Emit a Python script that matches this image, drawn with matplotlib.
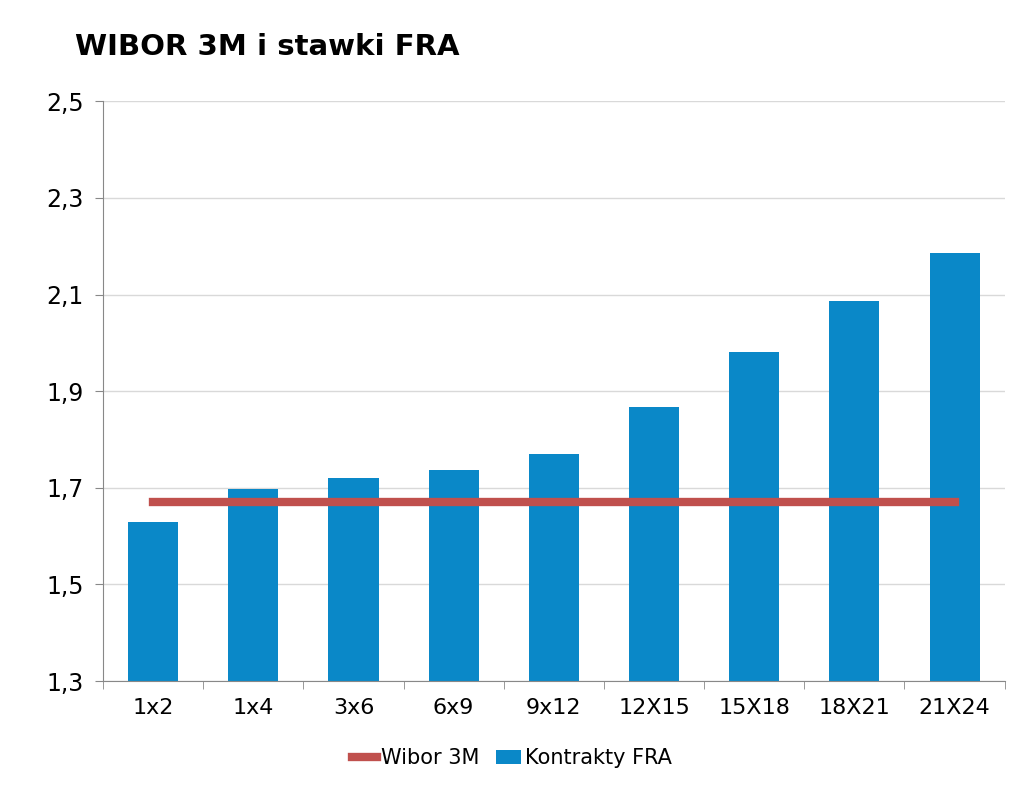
import matplotlib
matplotlib.use("Agg")
import matplotlib.pyplot as plt
import numpy as np

categories = ["1x2", "1x4", "3x6", "6x9", "9x12", "12X15", "15X18", "18X21", "21X24"]
fra = [1.63, 1.697, 1.72, 1.736, 1.77, 1.867, 1.98, 2.086, 2.186]
wibor = [1.67] * len(categories)

fig = plt.figure(figsize=(10.24, 7.91), dpi=100)
ax = fig.add_axes([0.1006, 0.139, 0.8805, 0.733])
x = np.arange(len(categories))
ax.bar(x, fra, width=0.5, color="#0A88C8", label="Kontrakty FRA", zorder=2)
ax.plot(x, wibor, color="#C0504D", lw=6, label="Wibor 3M", zorder=3)
ax.set_xlim(-0.5, len(categories) - 0.5)
ax.set_ylim(1.3, 2.5)
yt = np.arange(1.3, 2.51, 0.2)
ax.set_yticks(yt)
ax.set_yticklabels([f"{v:.1f}".replace(".", ",") for v in yt], fontsize=17)
ax.set_xticks(x)
ax.set_xticklabels(categories, fontsize=16)
ax.set_xticks(np.arange(-0.5, len(categories)), minor=True)
ax.tick_params(axis="x", which="major", length=0, pad=12)
ax.tick_params(axis="x", which="minor", length=6, color="#888888")
ax.tick_params(axis="y", length=6, color="#888888", pad=8)
ax.grid(axis="y", color="#D9D9D9", lw=1, zorder=0)
for s in ["top", "right"]:
    ax.spines[s].set_visible(False)
for s in ["left", "bottom"]:
    ax.spines[s].set_color("#888888")
fig.text(0.073, 0.93, "WIBOR 3M i stawki FRA", fontsize=21, fontweight="bold")
fig.legend(loc="lower center", bbox_to_anchor=(0.5, 0.005), ncol=2, frameon=False,
           fontsize=15, handlelength=1.2, columnspacing=0.8, handletextpad=0.2)
fig.savefig("out.png", dpi=100)
